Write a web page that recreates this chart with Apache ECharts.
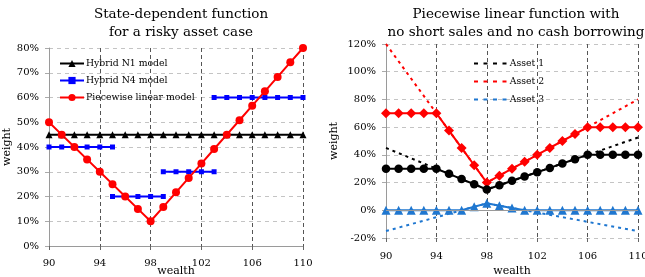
<!DOCTYPE html>
<html><head><meta charset="utf-8">
<script src="https://cdn.jsdelivr.net/npm/echarts@6/dist/echarts.min.js"></script>
<style>html,body{margin:0;padding:0;background:#fff}#c{width:645px;height:277px}</style>
</head><body><div id="c"></div>
<script>
const wealth = ['90','91','92','93','94','95','96','97','98','99','100','101','102','103','104','105','106','107','108','109','110'];
const leftTicks = ['0%','10%','20%','30%','40%','50%','60%','70%','80%'];
const rightTicks = ['-20%','0%','20%','40%','60%','80%','100%','120%'];

// Left chart
const hybridN1 = [45,45,45,45,45,45,45,45,45,45,45,45,45,45,45,45,45,45,45,45,45];
const hybridN4a = [40,40,40,40,40,40,null,null,null,null,null,null,null,null,null,null,null,null,null,null,null];
const hybridN4b = [null,null,null,null,null,20,20,20,20,20,null,null,null,null,null,null,null,null,null,null,null];
const hybridN4c = [null,null,null,null,null,null,null,null,null,30,30,30,30,30,null,null,null,null,null,null,null];
const hybridN4d = [null,null,null,null,null,null,null,null,null,null,null,null,null,60,60,60,60,60,60,60,60];
const piecewise = [50,45,40,35,30,25,20,15,10,15.8,21.7,27.5,33.3,39.2,45,50.8,56.7,62.5,68.3,74.2,80];

// Right chart (constrained)
const asset1 = [30,30,30,30,30,26.3,22.5,18.8,15,18.1,21.3,24.4,27.5,30.6,33.8,36.9,40,40,40,40,40];
const asset2 = [70,70,70,70,70,57.5,45,32.5,20,25,30,35,40,45,50,55,60,60,60,60,60];
const asset3 = [0,0,0,0,0,0,0,2.5,5,3.3,1.7,0,0,0,0,0,0,0,0,0,0];
// Right chart (unconstrained, dashed)
const asset1U = [45,null,null,null,null,null,null,null,15,null,null,null,null,null,null,null,null,null,null,null,52.5];
const asset2U = [120,null,null,null,null,null,null,null,20,null,null,null,null,null,null,null,null,null,null,null,80];
const asset3U = [-15,null,null,null,null,null,null,null,5,null,null,null,null,null,null,null,null,null,null,null,-15];

const FONT = 'DejaVu Serif';
const BLUE3 = '#1f77d0';
const DASH_ICON = 'path://M0,0h4v2h-4z M9.5,0h4v2h-4z M19,0h4v2h-4z M28.5,0h4v2h-4z';
const chart = echarts.init(document.getElementById('c'), null, {renderer:'canvas'});

function xAxisCfg(gridIndex, labelMargin, nameGap) {
  return {
    type:'category', gridIndex, data: wealth, boundaryGap:false,
    name:'wealth', nameLocation:'middle', nameGap, nameMoveOverlap:false,
    nameTextStyle:{fontFamily:FONT, fontSize:11, color:'#000'},
    axisLine:{show: gridIndex===0, onZero:false, lineStyle:{color:'#9a9a9a', width:1}},
    axisTick:{show:true, interval:3, length:4, lineStyle:{color:'#666'}},
    axisLabel:{interval:3, margin:labelMargin, fontFamily:FONT, fontSize:10, color:'#000'},
    splitLine:{show:true, interval:3, lineStyle:{type:[4,3], color:'#555', width:1}}
  };
}
function yAxisCfg(gridIndex, min, max, interval, ticks, nameGap) {
  return {
    type:'value', gridIndex, min, max, interval,
    name:'weight', nameLocation:'middle', nameGap, nameMoveOverlap:false,
    nameTextStyle:{fontFamily:FONT, fontSize:11, color:'#000'},
    axisLine:{show:true, lineStyle:{color:'#9a9a9a', width:1}},
    axisTick:{show:true, length:4, lineStyle:{color:'#aaa'}},
    axisLabel:{margin:10, fontFamily:FONT, fontSize:10, color:'#000',
      formatter: v => ticks[Math.round((v - min) / interval)]},
    splitLine:{show:true, lineStyle:{type:[4,4], color:'#c4c4c4', width:1}}
  };
}

const n4Style = {color:'blue', lineStyle:{color:'blue', width:2}, itemStyle:{color:'blue'}, showAllSymbol:true};

const option = {
  animation:false,
  backgroundColor:'#fff',
  title:[
    {text:'State-dependent function\nfor a risky asset case', left:176, top:0, textAlign:'center',
     textStyle:{fontFamily:FONT, fontSize:13.5, fontWeight:'normal', color:'#000', lineHeight:18}},
    {text:'Piecewise linear function with\nno short sales and no cash borrowing', left:511, top:0, textAlign:'center',
     textStyle:{fontFamily:FONT, fontSize:13.5, fontWeight:'normal', color:'#000', lineHeight:18}}
  ],
  legend:[
    {data:['Hybrid N1 model','Hybrid N4 model','Piecewise linear model'], orient:'vertical',
     left:59, top:59, padding:0, itemWidth:24, itemHeight:9, itemGap:8,
     textStyle:{fontFamily:FONT, fontSize:9.3, color:'#000', padding:[0,0,0,-3]}},
    {data:[{name:'Asset 1', icon:DASH_ICON},{name:'Asset 2', icon:DASH_ICON},{name:'Asset 3', icon:DASH_ICON}],
     orient:'vertical', left:474, top:59, padding:0, itemWidth:33, itemHeight:2, itemGap:9,
     textStyle:{fontFamily:FONT, fontSize:9.3, color:'#000', padding:[0,0,0,-2]}}
  ],
  grid:[
    {left:49, right:342, top:48, bottom:31, outerBoundsMode:'none', containLabel:false},
    {left:386, right:7, top:44, bottom:39, outerBoundsMode:'none', containLabel:false}
  ],
  xAxis:[xAxisCfg(0, 12, 20), xAxisCfg(1, 13, 28)],
  yAxis:[yAxisCfg(0, 0, 80, 10, leftTicks, 36), yAxisCfg(1, -20, 120, 20, rightTicks, 46)],
  series:[
    {name:'Hybrid N1 model', type:'line', xAxisIndex:0, yAxisIndex:0, data:hybridN1, showAllSymbol:true,
     symbol:'triangle', symbolSize:7, color:'#000', lineStyle:{color:'#000', width:2}, itemStyle:{color:'#000'}},
    Object.assign({name:'Hybrid N4 model', type:'line', xAxisIndex:0, yAxisIndex:0, data:hybridN4a, symbol:'rect', symbolSize:5}, n4Style),
    Object.assign({name:'Hybrid N4 model', type:'line', xAxisIndex:0, yAxisIndex:0, data:hybridN4b, symbol:'rect', symbolSize:5}, n4Style),
    Object.assign({name:'Hybrid N4 model', type:'line', xAxisIndex:0, yAxisIndex:0, data:hybridN4c, symbol:'rect', symbolSize:5}, n4Style),
    Object.assign({name:'Hybrid N4 model', type:'line', xAxisIndex:0, yAxisIndex:0, data:hybridN4d, symbol:'rect', symbolSize:5}, n4Style),
    {name:'Piecewise linear model', type:'line', xAxisIndex:0, yAxisIndex:0, data:piecewise, showAllSymbol:true,
     symbol:'circle', symbolSize:8, color:'red', lineStyle:{color:'red', width:2}, itemStyle:{color:'red'}},

    {name:'Asset 1', type:'line', xAxisIndex:1, yAxisIndex:1, data:asset1U, connectNulls:true, symbol:'none',
     color:'#000', lineStyle:{color:'#000', width:2, type:[3,4]},
     markLine:{silent:true, symbol:'none', label:{show:false}, lineStyle:{color:'#9a9a9a', type:'solid', width:1},
       data:[{yAxis:0}]}},
    {name:'Asset 2', type:'line', xAxisIndex:1, yAxisIndex:1, data:asset2U, connectNulls:true, symbol:'none',
     color:'red', lineStyle:{color:'red', width:2, type:[3,4]}},
    {name:'Asset 3', type:'line', xAxisIndex:1, yAxisIndex:1, data:asset3U, connectNulls:true, symbol:'none',
     color:BLUE3, lineStyle:{color:BLUE3, width:2, type:[3,4]}},
    {name:'a3', type:'line', xAxisIndex:1, yAxisIndex:1, data:asset3, symbol:'triangle', symbolSize:9, showAllSymbol:true,
     lineStyle:{color:BLUE3, width:2}, itemStyle:{color:BLUE3}},
    {name:'a2', type:'line', xAxisIndex:1, yAxisIndex:1, data:asset2, symbol:'diamond', symbolSize:10, showAllSymbol:true,
     lineStyle:{color:'red', width:2}, itemStyle:{color:'red'}},
    {name:'a1', type:'line', xAxisIndex:1, yAxisIndex:1, data:asset1, symbol:'circle', symbolSize:8.5, showAllSymbol:true,
     lineStyle:{color:'#000', width:2}, itemStyle:{color:'#000'}}
  ]
};
chart.setOption(option);
</script></body></html>
